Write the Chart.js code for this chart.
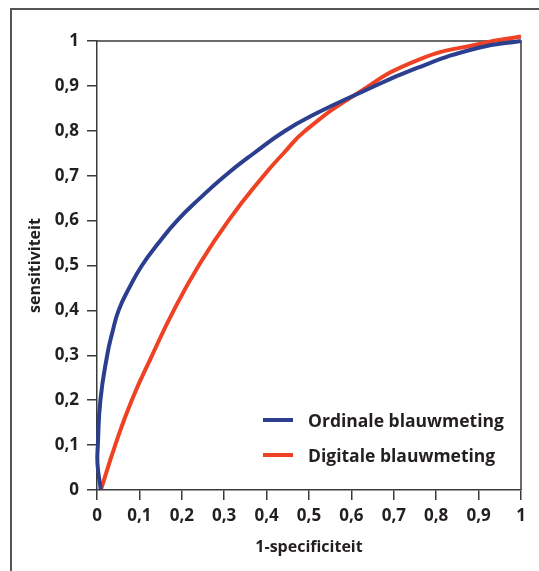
<!DOCTYPE html>
<html>
<head>
<meta charset="utf-8">
<script src="https://cdn.jsdelivr.net/npm/chart.js@4.4.0/dist/chart.umd.min.js"></script>
<style>
  html, body { margin: 0; padding: 0; background: #fff; }
  #wrap { position: relative; width: 539px; height: 571px; overflow: hidden; }
  #frame { position: absolute; left: 10px; top: 8px; width: 600px; height: 600px;
           border-left: 2px solid #555; border-top: 2px solid #555; }
  #chart { position: absolute; left: 0; top: 0; }
  #legend { position: absolute; left: 263px; top: 402px; font: bold 17.5px "Open Sans", sans-serif; color: #231f20; }
  #legend .row { display: flex; align-items: center; height: 35px; }
  #legend .swatch { width: 30px; height: 4px; margin-right: 15px; }
</style>
</head>
<body>
<div id="wrap">
  <div id="frame"></div>
  <canvas id="chart" width="539" height="571"></canvas>
  <div id="legend"></div>
</div>
<script>
// ROC curves (sensitivity levels and the matching 1-specificity)
const ordY = [0, 0.06, 0.1, 0.2, 0.3, 0.35, 0.4, 0.45, 0.5, 0.55, 0.6, 0.65, 0.7, 0.75, 0.8, 0.84, 0.878, 0.94, 0.985, 1.0];
const ordX = [0.009, 0.001, 0.002, 0.008, 0.024, 0.036, 0.051, 0.076, 0.106, 0.145, 0.189, 0.243, 0.302, 0.37, 0.444, 0.52, 0.605, 0.755, 0.90, 1.0];

const digY = [0, 0.1, 0.2, 0.3, 0.4, 0.5, 0.6, 0.7, 0.75, 0.8, 0.878, 0.957, 0.995, 1.01];
const digX = [0.009, 0.043, 0.082, 0.13, 0.181, 0.24, 0.31, 0.393, 0.44, 0.491, 0.605, 0.755, 0.91, 1.0];

const tickVals = [0, 0.1, 0.2, 0.3, 0.4, 0.5, 0.6, 0.7, 0.8, 0.9, 1];

const seriesNames = ['Ordinale blauwmeting', 'Digitale blauwmeting'];
const seriesColors = ['#2b3f8e', '#ef4123'];

const tickFont = { family: '"Open Sans", sans-serif', size: 17, weight: 'bold' };
const titleFont = { family: '"Open Sans", sans-serif', size: 16, weight: 'bold' };
const dutch = v => String(Math.round(v * 10) / 10).replace('.', ',');

// draws the top and right sides of the plot box
const boxLines = {
    id: 'boxLines',
    beforeDatasetsDraw(chart) {
        const a = chart.chartArea;
        const c = chart.ctx;
        c.save();
        c.strokeStyle = '#3a3a3a';
        c.lineWidth = 1.5;
        c.beginPath();
        c.moveTo(a.left, a.top);
        c.lineTo(a.right, a.top);
        c.lineTo(a.right, a.bottom);
        c.stroke();
        c.restore();
    }
};

const ctx = document.getElementById('chart').getContext('2d');
new Chart(ctx, {
    type: 'scatter',
    data: {
        datasets: [
            {
                label: seriesNames[0],
                data: ordY.map((y, i) => ({ x: ordX[i], y: y })),
                borderColor: seriesColors[0],
                borderWidth: 4,
                showLine: true,
                tension: 0.5,
                pointRadius: 0,
                clip: false
            },
            {
                label: seriesNames[1],
                data: digY.map((y, i) => ({ x: digX[i], y: y })),
                borderColor: seriesColors[1],
                borderWidth: 4,
                showLine: true,
                tension: 0.5,
                pointRadius: 0,
                clip: false
            }
        ]
    },
    options: {
        responsive: false,
        animation: false,
        layout: { padding: { left: 0, top: 41, right: 18, bottom: 0 } },
        plugins: { legend: { display: false }, tooltip: { enabled: false } },
        scales: {
            x: {
                type: 'linear',
                position: 'bottom',
                min: 0,
                max: 1,
                afterBuildTicks: function (scale) {
                    scale.ticks = tickVals.map(v => ({ value: v }));
                },
                afterFit: function (scale) { scale.height = 81; },
                grid: { drawOnChartArea: false, color: '#3a3a3a', lineWidth: 1.5, tickLength: 10 },
                border: { color: '#3a3a3a', width: 1.5 },
                ticks: { color: '#231f20', font: tickFont, padding: 6, maxRotation: 0, callback: dutch },
                title: { display: true, text: '1-specificiteit', color: '#231f20', font: titleFont, padding: { top: 0, bottom: 14 } }
            },
            y: {
                type: 'linear',
                position: 'left',
                min: 0,
                max: 1,
                afterBuildTicks: function (scale) {
                    scale.ticks = tickVals.map(v => ({ value: v }));
                },
                afterFit: function (scale) { scale.width = 97; },
                grid: { drawOnChartArea: false, color: '#3a3a3a', lineWidth: 1.5, tickLength: 10 },
                border: { color: '#3a3a3a', width: 1.5 },
                ticks: { color: '#231f20', font: tickFont, padding: 8, callback: dutch },
                title: { display: true, text: 'sensitiviteit', color: '#231f20', font: titleFont, padding: { top: 26, bottom: 0 } }
            }
        }
    },
    plugins: [boxLines]
});

// legend placed inside the plot, bottom right
const legend = document.getElementById('legend');
seriesNames.forEach((name, i) => {
    const row = document.createElement('div');
    row.className = 'row';
    const sw = document.createElement('span');
    sw.className = 'swatch';
    sw.style.background = seriesColors[i];
    const txt = document.createElement('span');
    txt.textContent = name;
    row.appendChild(sw);
    row.appendChild(txt);
    legend.appendChild(row);
});
</script>
</body>
</html>
